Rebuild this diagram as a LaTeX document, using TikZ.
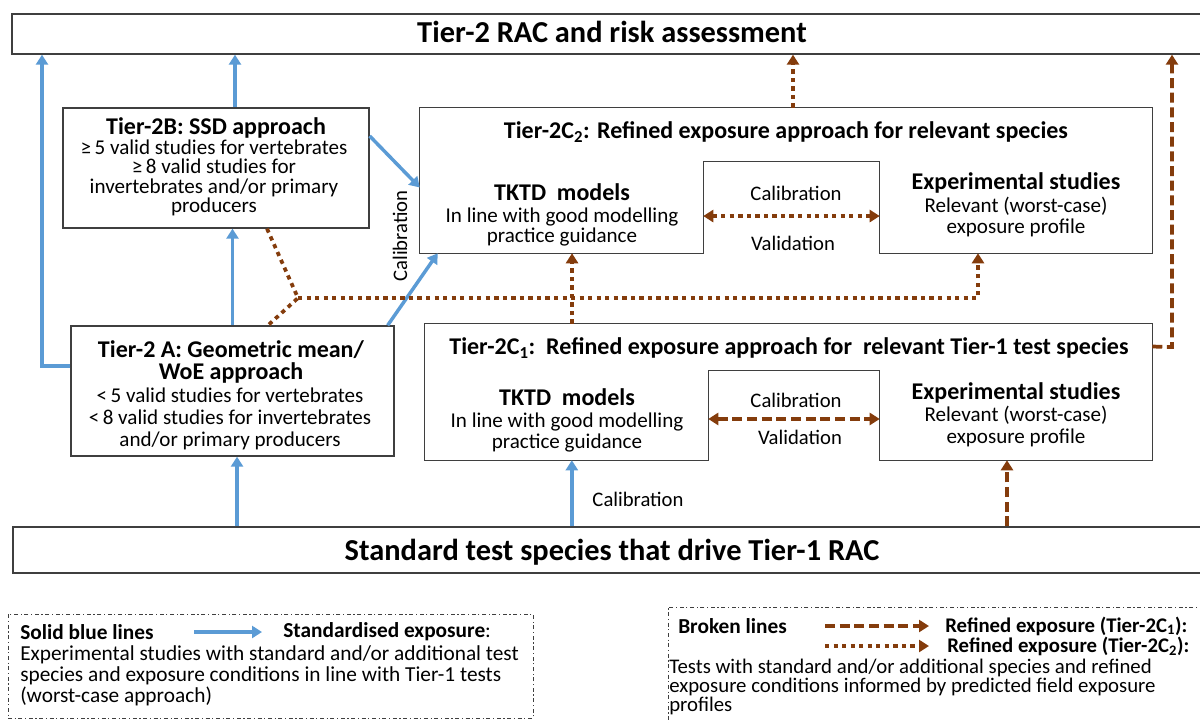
\documentclass[tikz,border=0pt]{standalone}
\usepackage{fontspec}
\setmainfont{Carlito}
\usetikzlibrary{arrows.meta,fit,calc}
\definecolor{cblue}{HTML}{5B9BD5}
\definecolor{cbrown}{HTML}{843C0C}
\definecolor{cedge}{HTML}{3F3F3F}
\tikzset{
  boxline/.style={draw=cedge, line width=1pt, inner sep=0pt},
  region/.style={inner sep=0pt},
  legbox/.style={draw=cedge, line width=0.7pt, inner sep=0pt, dash pattern=on 3pt off 2pt on 0.8pt off 2pt},
  hdr/.style={font=\fontsize{22.8}{26}\selectfont\bfseries, inner sep=0pt},
  ttl/.style={font=\fontsize{18}{#1}\selectfont\bfseries, inner sep=0pt, align=center},
  ttl/.default=20pt,
  bod/.style={font=\fontsize{15.8}{#1}\selectfont, inner sep=0pt, align=center},
  bod/.default=15pt,
  lbl/.style={font=\fontsize{15.5}{17}\selectfont, inner sep=0pt},
  leg/.style={font=\fontsize{16}{#1}\selectfont, inner sep=0pt, align=left, anchor=west},
  leg/.default=16pt,
  legs/.style={font=\fontsize{15.6}{#1}\selectfont, inner sep=0pt, align=left, anchor=west},
  legs/.default=15pt,
  bl/.style={draw=cblue, line width=2.6pt, -{Triangle[width=9pt,length=7.5pt]}},
  dt/.style={draw=cbrown, line width=2.8pt, dash pattern=on 3.2pt off 3.2pt},
  dta/.style={dt, -{Triangle[width=9pt,length=7.5pt]}},
  dtd/.style={dt, {Triangle[width=9pt,length=7.5pt]}-{Triangle[width=9pt,length=7.5pt]}},
  ds/.style={draw=cbrown, line width=2.8pt, dash pattern=on 7.5pt off 3.5pt},
  dsa/.style={ds, -{Triangle[width=9pt,length=7.5pt]}},
  dsd/.style={ds, {Triangle[width=9pt,length=7.5pt]}-{Triangle[width=9pt,length=7.5pt]}},
}
\begin{document}
\begin{tikzpicture}[x=0.75pt, y=-0.75pt]
\useasboundingbox (0,0) rectangle (1200,722);

% ---------- top and bottom bars ----------
\node[boxline, fit={(12,14) (1215,54)}] (top) {};
\node[hdr] (toptxt) at (612,32) {Tier-2 RAC and risk assessment};
\node[boxline, fit={(13,527) (1215,573)}] (std) {};
\node[hdr] (stdtxt) at (612,552) {Standard test species that drive Tier-1 RAC};

% ---------- Tier-2B ----------
\node[boxline, fit={(63,108) (369,228)}] (t2b) {};
\node[ttl] (t2bt) at (216,128) {Tier-2B: SSD approach};
\node[bod=14.5pt] (t2bb) at (214,178) {≥\,5 valid studies for vertebrates\\≥\,8 valid studies for\\invertebrates and/or primary\\producers};

% ---------- Tier-2A ----------
\node[boxline, fit={(71,326) (394,456)}] (t2a) {};
\node[ttl=16.5pt] (t2at) at (231,362) {Tier-2 A: Geometric mean/\\WoE approach};
\node[bod=16.5pt] (t2ab) at (230,419) {<\,5 valid studies for vertebrates\\<\,8 valid studies for invertebrates\\and/or primary producers};

% ---------- Tier-2C2 ----------
\node[region, fit={(420,108) (1152,253)}] (c2) {};
\node[region, fit={(420,162) (703,253)}] (tk2) {};
\node[region, fit={(880,162) (1152,253)}] (ex2) {};
\draw[draw=cedge, line width=1pt] (c2.north west) -- (c2.north east) -- (c2.south east) -- (ex2.south west) -- (ex2.north west) -- (tk2.north east) -- (tk2.south east) -- (c2.south west) -- cycle;
\node[ttl] (c2t) at (786,132) {Tier-2C\textsubscript{2}: Refined exposure approach for relevant species};
\node[ttl] (tk2t) at (562,192) {TKTD\ \ models};
\node[bod=15pt] (tk2b) at (562,227) {In line with good modelling\\practice guidance};
\node[ttl] (ex2t) at (1016,183) {Experimental studies};
\node[bod=15.75pt] (ex2b) at (1016,216.5) {Relevant (worst-case)\\exposure profile};

% ---------- Tier-2C1 ----------
\node[region, fit={(425,324) (1152,460)}] (c1) {};
\node[region, fit={(425,371) (708,460)}] (tk1) {};
\node[region, fit={(880,371) (1152,460)}] (ex1) {};
\draw[draw=cedge, line width=1pt] (c1.north west) -- (c1.north east) -- (c1.south east) -- (ex1.south west) -- (ex1.north west) -- (tk1.north east) -- (tk1.south east) -- (c1.south west) -- cycle;
\node[ttl] (c1t) at (789,348) {Tier-2C\textsubscript{1}:\ \ Refined exposure approach for\ \ relevant Tier-1 test species};
\node[ttl] (tk1t) at (567,397) {TKTD\ \ models};
\node[bod=15.75pt] (tk1b) at (567,432.5) {In line with good modelling\\practice guidance};
\node[ttl] (ex1t) at (1016,393) {Experimental studies};
\node[bod=16.5pt] (ex1b) at (1016,426) {Relevant (worst-case)\\exposure profile};

% ---------- blue connectors ----------
\coordinate (bA) at (42,366);
\draw[bl] (t2a.west |- bA) -- (bA) -- (bA |- top.south);
\draw[bl] ([xshift=14.25pt]t2b.north) -- ([xshift=14.25pt]t2b.north |- top.south);
\draw[bl] (t2a.north) -- (t2a.north |- t2b.south);
\draw[bl] ([xshift=3.4pt]t2a.south |- std.north) -- ([xshift=3.4pt]t2a.south);
\draw[bl] ([yshift=24pt]t2b.east) -- ([yshift=15pt]tk2.west);
\draw[bl] ([xshift=-5.25pt]t2a.north east) -- ([xshift=13.5pt]tk2.south west);
\draw[bl] ([xshift=4pt]tk1.south |- std.north) -- ([xshift=4pt]tk1.south);
\node[lbl, rotate=90] (calv) at (400,236) {Calibration};
\node[lbl] (calb) at (638,499) {Calibration};

% ---------- brown dotted (Tier-2C2) ----------
\coordinate (J) at (298,298);
\draw[dt] ([xshift=38.25pt]t2b.south) -- (J) -- ([xshift=26.6pt]t2a.north);
\draw[dta] (J) -| ([xshift=-28.5pt]ex2.south);
\draw[dta] ([xshift=7.9pt]tk2.south |- c1.north) -- ([xshift=7.9pt]tk2.south);
\draw[dtd] ([yshift=-6.4pt]tk2.east) -- ([yshift=-6.4pt]tk2.east -| ex2.west);
\draw[dta] ([xshift=5.25pt]c2.north) -- ([xshift=5.25pt]c2.north |- top.south);
\node[lbl] (cal2) at (796,193) {Calibration};
\node[lbl] (val2) at (793,243) {Validation};

% ---------- brown dashed (Tier-2C1) ----------
\draw[dsd] ([yshift=-2.6pt]tk1.east) -- ([yshift=-2.6pt]tk1.east -| ex1.west);
\draw[dsa] ([xshift=-6.75pt]ex1.south |- std.north) -- ([xshift=-6.75pt]ex1.south);
\coordinate (R) at (1172,347);
\draw[dsa] ([yshift=34.1pt]c1.east) -- (R) -- (R |- top.south);
\node[lbl] (cal1) at (796,400) {Calibration};
\node[lbl] (val1) at (800,437) {Validation};

% ---------- legend 1 ----------
\node[legbox, fit={(8,614) (533,718)}] (leg1) {};
\node[leg] (l1a) at (20,632) {\textbf{Solid blue lines}};
\coordinate (la1) at (194,632);
\coordinate (la2) at (262,632);
\draw[bl] (la1) -- (la2);
\node[leg] (l1b) at (283,632) {\textbf{Standardised exposure}:};
\node[leg=15.75pt] (l1c) at (20,676) {Experimental studies with standard and/or additional test\\species and exposure conditions in line with Tier-1 tests\\(worst-case approach)};

% ---------- legend 2 ----------
\node[legbox, fit={(668,607) (1215,735)}] (leg2) {};
\node[leg] (l2a) at (678,626) {\textbf{Broken lines}};
\coordinate (lb1) at (825,626);
\coordinate (lb2) at (929,626);
\draw[dsa] (lb1) -- (lb2);
\node[legs] (l2b) at (945,626) {\textbf{Refined exposure (Tier-2C\textsubscript{1}):}};
\coordinate (lc1) at (825,646);
\coordinate (lc2) at (929,646);
\draw[dta] (lc1) -- (lc2);
\node[legs] (l2c) at (947,646) {\textbf{Refined exposure (Tier-2C\textsubscript{2}):}};
\node[legs=14.3pt] (l2d) at (669,687) {Tests with standard and/or additional species and refined\\exposure conditions informed by predicted field exposure\\profiles};
\end{tikzpicture}
\end{document}
